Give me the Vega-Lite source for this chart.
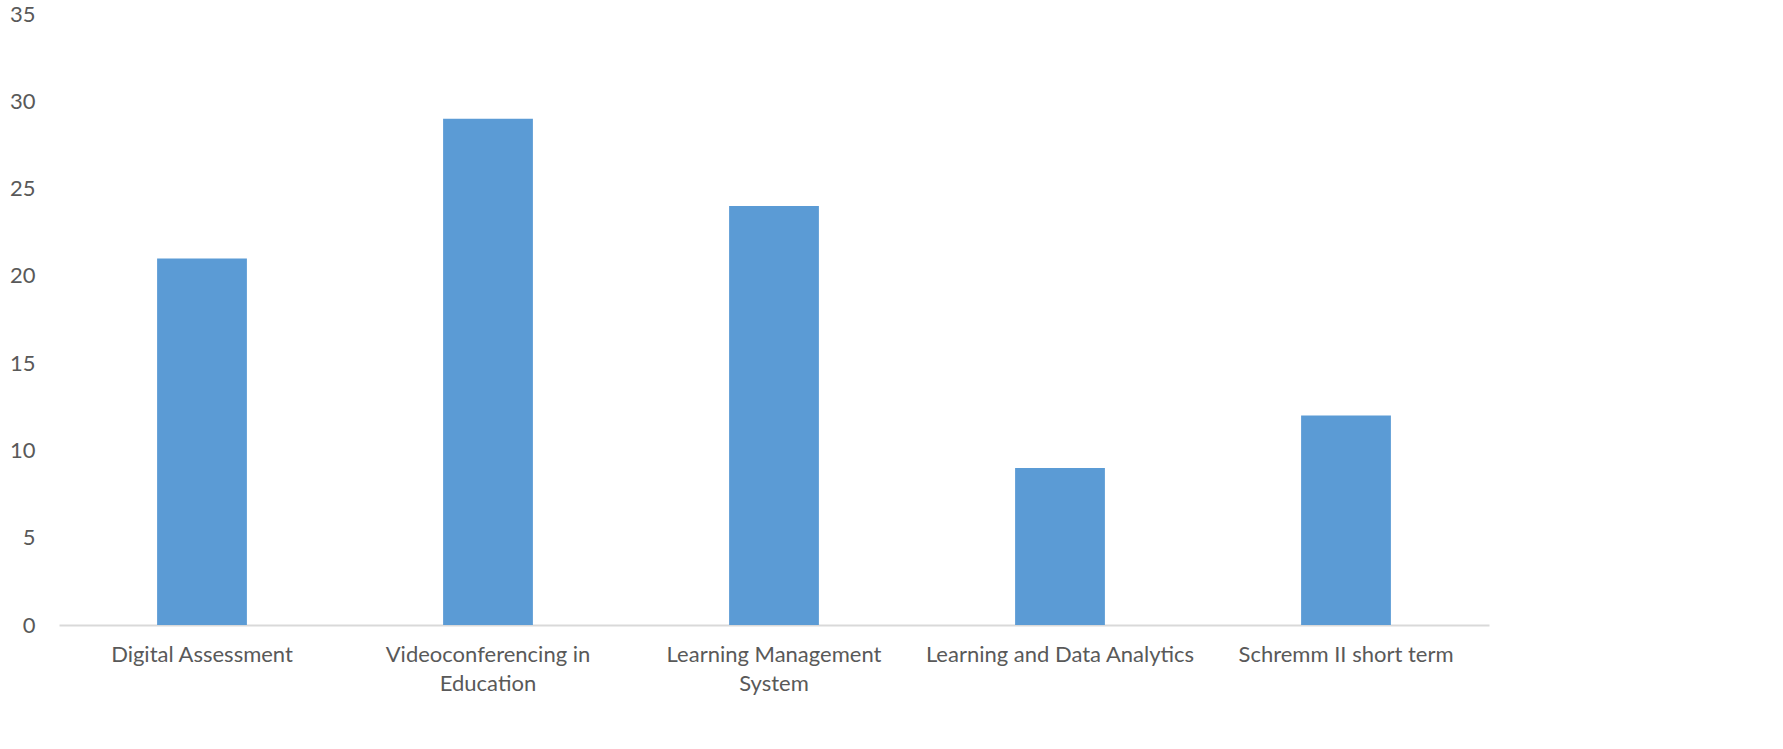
{
  "$schema": "https://vega.github.io/schema/vega-lite/v6.json",
  "autosize": "none",
  "width": 1430,
  "height": 611,
  "padding": {"left": 59, "top": 14, "right": 294, "bottom": 124},
  "background": "white",
  "config": {
    "view": {"stroke": null},
    "font": "Lato"
  },
  "data": {
    "values": [
      {"topic": "Digital Assessment", "count": 21},
      {"topic": "Videoconferencing in Education", "count": 29},
      {"topic": "Learning Management System", "count": 24},
      {"topic": "Learning and Data Analytics", "count": 9},
      {"topic": "Schremm II short term", "count": 12}
    ]
  },
  "mark": {"type": "bar", "color": "#5b9bd5"},
  "encoding": {
    "x": {
      "field": "topic",
      "type": "nominal",
      "sort": null,
      "title": null,
      "scale": {"paddingInner": 0.686, "paddingOuter": 0.343},
      "axis": {
        "labelAngle": 0,
        "labelFontSize": 22,
        "labelColor": "#595959",
        "labelPadding": 19,
        "labelLineHeight": 29,
        "labelLimit": 400,
        "ticks": false,
        "domainColor": "#d9d9d9",
        "domainWidth": 2,
        "labelExpr": "datum.value == 'Videoconferencing in Education' ? ['Videoconferencing in', 'Education'] : datum.value == 'Learning Management System' ? ['Learning Management', 'System'] : datum.value"
      }
    },
    "y": {
      "field": "count",
      "type": "quantitative",
      "title": null,
      "scale": {"domain": [0, 35]},
      "axis": {
        "values": [0, 5, 10, 15, 20, 25, 30, 35],
        "labelFontSize": 22,
        "labelColor": "#595959",
        "labelPadding": 24,
        "grid": false,
        "ticks": false,
        "domain": false
      }
    }
  }
}
